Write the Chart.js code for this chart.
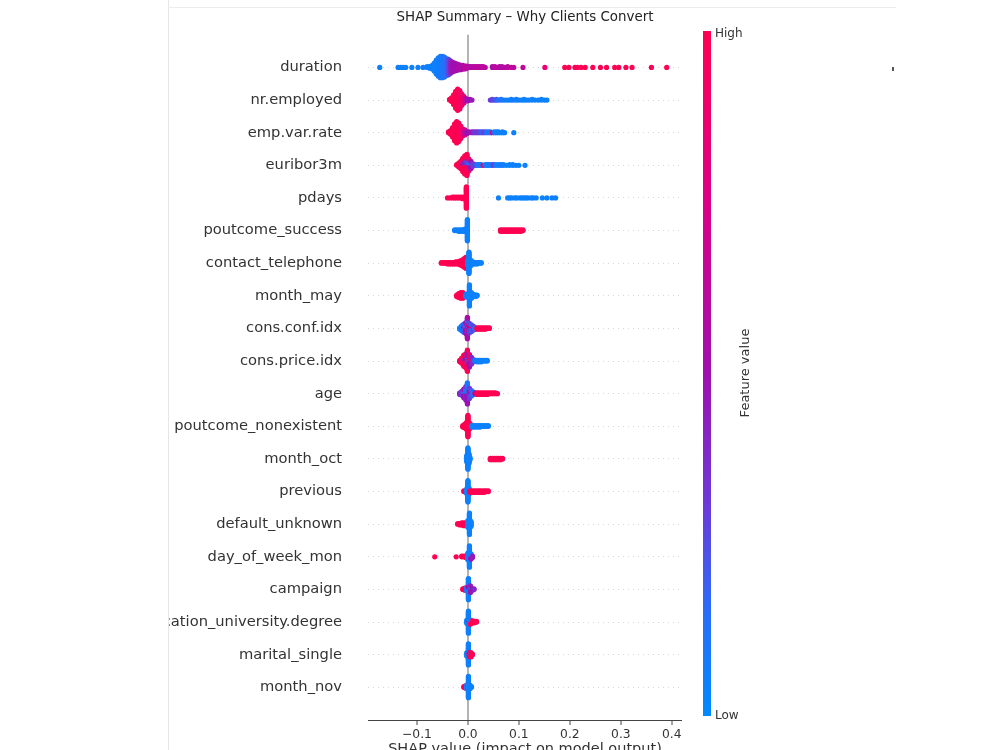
<!DOCTYPE html>
<html>
<head>
<meta charset="utf-8">
<script src="https://cdn.jsdelivr.net/npm/chart.js@4.4.1/dist/chart.umd.min.js"></script>
<style>
  html, body { margin: 0; padding: 0; background: #fff; overflow: hidden; }
  #wrap { position: relative; width: 1000px; height: 765px; }
  #mask { position: absolute; left: 0; top: 0; width: 168px; height: 765px; background: #fff; border-right: 1px solid #e6e6e6; }
  #topline { position: absolute; left: 168px; top: 7px; width: 728px; height: 1px; background: #ededed; }
  #speck { position: absolute; left: 892px; top: 67px; width: 2px; height: 4px; background: #555; }
</style>
</head>
<body>
<div id="wrap">
  <canvas id="shap" width="1000" height="765"></canvas>
  <div id="mask"></div>
  <div id="topline"></div>
  <div id="speck"></div>
</div>
<script>
// feature names, top to bottom
const featureNames = ['duration', 'nr.employed', 'emp.var.rate', 'euribor3m', 'pdays',
  'poutcome_success', 'contact_telephone', 'month_may', 'cons.conf.idx', 'cons.price.idx',
  'age', 'poutcome_nonexistent', 'month_oct', 'previous', 'default_unknown',
  'day_of_week_mon', 'campaign', 'education_university.degree', 'marital_single', 'month_nov'];

const xTicks = [-0.1, 0, 0.1, 0.2, 0.3, 0.4];

// each entry: [shap value, number of points, feature value 0=low .. 1=high]
const duration = [
  [-0.173,1,0.05],[-0.137,1,0.05],[-0.132,1,0.05],[-0.127,1,0.05],[-0.122,1,0.05],[-0.110,1,0.05],[-0.098,1,0.05],[-0.088,1,0.08],[-0.080,2,0.05],
  [-0.075,3,0.05],[-0.070,6,0.05],[-0.066,12,0.05],[-0.062,20,0.05],[-0.058,26,0.06],[-0.054,30,0.08],[-0.050,30,0.1],[-0.046,28,0.12],[-0.042,24,0.15],
  [-0.038,20,0.25],[-0.038,2,0.5],[-0.034,14,0.4],[-0.034,4,0.55],[-0.030,14,0.5],[-0.026,12,0.5],[-0.022,10,0.5],[-0.018,8,0.55],[-0.014,7,0.55],
  [-0.010,6,0.55],[-0.006,5,0.6],[-0.002,4,0.6],
  [0.002,2,0.6],[0.006,2,0.6],[0.010,2,0.55],[0.014,2,0.6],[0.018,2,0.65],[0.022,2,0.6],[0.026,2,0.6],[0.030,2,0.6],[0.034,1,0.6],
  [0.048,2,0.55],[0.053,2,0.6],[0.058,1,0.6],[0.062,2,0.6],[0.067,2,0.55],[0.072,1,0.6],[0.078,2,0.6],[0.085,1,0.65],[0.090,1,0.6],
  [0.108,1,0.65],[0.151,1,0.85],
  [0.190,1,1],[0.198,1,1],[0.210,1,1],[0.215,1,0.95],[0.222,1,1],[0.230,1,1],[0.245,1,1],[0.260,1,1],[0.272,1,1],[0.288,1,1],
  [0.296,1,1],[0.310,1,1],[0.322,1,1],[0.360,1,1],[0.390,1,1]
];
const nrEmployed = [
  [-0.036,2,1],[-0.032,6,1],[-0.028,14,1],[-0.024,24,1],[-0.020,30,1],[-0.016,26,0.95],[-0.012,16,0.9],[-0.008,8,0.8],[-0.008,2,0.5],
  [-0.004,4,0.6],[0.000,3,0.5],[0.004,2,0.5],[0.008,1,0.45],
  [0.044,1,0.3],[0.048,2,0.3],[0.052,1,0.25],[0.056,2,0.2],[0.060,1,0.15],[0.065,2,0.1],[0.070,1,0.1],[0.075,1,0.05],[0.080,1,0.05],
  [0.085,2,0.05],[0.090,1,0.1],[0.095,2,0.05],[0.100,1,0.05],[0.105,1,0.05],[0.110,2,0.05],[0.115,1,0.05],[0.120,1,0.05],[0.126,2,0.05],
  [0.132,1,0.05],[0.138,1,0.05],[0.144,2,0.05],[0.150,1,0.05],[0.155,1,0.05]
];
const empVarRate = [
  [-0.038,2,1],[-0.034,6,1],[-0.030,14,1],[-0.026,24,1],[-0.022,30,1],[-0.018,26,1],[-0.014,18,0.95],[-0.010,10,0.9],[-0.006,6,0.7],
  [-0.006,2,0.4],[-0.002,3,0.5],[0.002,2,0.5],
  [0.008,2,0.45],[0.012,2,0.35],[0.016,2,0.3],[0.020,2,0.35],[0.024,2,0.25],[0.028,2,0.2],[0.032,2,0.3],[0.036,2,0.15],[0.040,2,0.1],
  [0.044,2,0.1],[0.048,1,0.8],[0.052,2,0.1],[0.056,2,0.05],[0.060,2,0.05],[0.064,1,0.05],[0.068,2,0.05],[0.072,1,0.05],[0.090,1,0.05]
];
const euribor3m = [
  [-0.022,2,1],[-0.018,6,1],[-0.014,10,1],[-0.010,14,1],[-0.010,4,0.5],[-0.006,18,1],[-0.006,6,0.4],[-0.002,20,1],[-0.002,8,0.3],
  [0.002,10,0.9],[0.002,6,0.2],[0.006,6,0.5],[0.006,4,0.1],[0.010,4,0.3],
  [0.014,2,0.3],[0.018,2,0.15],[0.022,2,0.1],[0.026,2,0.1],[0.030,1,0.9],[0.034,2,0.1],[0.038,2,0.05],[0.042,2,0.1],[0.046,2,0.05],
  [0.050,2,0.3],[0.055,2,0.05],[0.060,2,0.05],[0.065,2,0.1],[0.070,2,0.05],[0.076,1,0.05],[0.082,2,0.05],[0.088,2,0.05],[0.094,1,0.05],
  [0.100,1,0.05],[0.112,1,0.05]
];
const pdays = [
  [-0.040,1,1],[-0.035,1,1],[-0.030,2,1],[-0.026,2,1],[-0.022,2,1],[-0.018,2,1],[-0.014,2,1],[-0.010,3,1],[-0.006,3,1],[-0.003,30,1],
  [0.060,1,0.05],[0.078,1,0.05],[0.082,1,0.05],[0.086,1,0.05],[0.092,1,0.05],[0.096,1,0.05],[0.102,1,0.05],[0.106,1,0.05],[0.110,1,0.05],
  [0.114,1,0.05],[0.118,1,0.05],[0.124,1,0.05],[0.128,1,0.05],[0.134,1,0.05],[0.146,1,0.05],[0.155,1,0.05],[0.165,1,0.05],[0.172,1,0.05]
];
const poutcomeSuccess = [
  [-0.026,2,0.05],[-0.022,2,0.05],[-0.018,3,0.05],[-0.014,3,0.05],[-0.010,3,0.05],[-0.006,4,0.05],[-0.001,30,0.05],
  [0.064,3,1],[0.068,3,1],[0.072,3,1],[0.076,3,1],[0.080,3,1],[0.084,3,1],[0.088,3,1],[0.092,3,1],[0.096,3,1],[0.100,3,1],[0.104,3,1],[0.108,2,1]
];
const contactTelephone = [
  [-0.052,2,1],[-0.048,2,1],[-0.044,2,1],[-0.040,3,1],[-0.036,3,1],[-0.032,3,1],[-0.028,3,1],[-0.024,4,1],[-0.020,4,1],[-0.016,6,1],
  [-0.012,8,1],[-0.008,12,1],[-0.004,14,1],[-0.004,2,0.5],
  [0.000,8,0.05],[0.002,30,0.05],[0.006,8,0.05],[0.010,4,0.05],[0.014,3,0.05],[0.018,3,0.05],[0.022,2,0.05],[0.026,2,0.05]
];
const monthMay = [
  [-0.022,3,1],[-0.018,6,1],[-0.014,8,1],[-0.010,8,1],[-0.006,4,1],[-0.004,4,0.05],[0.000,6,0.05],[0.003,28,0.05],[0.007,8,0.05],
  [0.011,4,0.05],[0.015,3,0.05],[0.018,2,0.05]
];
const consConfIdx = [
  [-0.016,3,0.05],[-0.012,6,0.1],[-0.012,2,0.5],[-0.008,8,0.2],[-0.008,4,0.6],[-0.004,10,0.5],[-0.004,6,0.1],[-0.001,14,0.55],[-0.001,10,0.2],
  [-0.001,6,0.9],[0.003,8,0.3],[0.003,6,0.6],[0.007,6,0.2],[0.007,4,0.7],[0.011,4,0.3],[0.011,2,0.9],[0.014,3,0.1],
  [0.018,3,1],[0.022,3,1],[0.026,3,1],[0.030,3,1],[0.034,3,1],[0.038,2,1],[0.042,2,1]
];
const consPriceIdx = [
  [-0.016,3,0.9],[-0.012,6,1],[-0.012,2,0.5],[-0.008,10,1],[-0.008,6,0.4],[-0.004,12,0.95],[-0.004,8,0.5],[-0.001,14,1],[-0.001,12,0.45],
  [-0.001,4,0.1],[0.003,8,0.5],[0.003,8,0.9],[0.003,2,0.1],[0.007,6,0.4],[0.007,4,0.9],[0.011,4,0.3],[0.014,2,0.1],
  [0.018,3,0.05],[0.022,3,0.05],[0.026,3,0.05],[0.030,2,0.05],[0.034,2,0.05],[0.038,2,0.05]
];
const age = [
  [-0.016,3,0.4],[-0.012,6,0.3],[-0.008,8,0.5],[-0.008,4,0.1],[-0.004,10,0.4],[-0.004,8,0.1],[-0.001,14,0.5],[-0.001,14,0.1],
  [0.003,8,0.3],[0.003,6,0.55],[0.007,6,0.2],[0.007,2,0.6],[0.011,4,0.1],[0.014,2,0.5],
  [0.018,3,1],[0.022,3,1],[0.026,3,1],[0.030,3,1],[0.034,3,1],[0.038,3,1],[0.042,2,1],[0.046,2,1],[0.050,2,1],[0.054,2,1],[0.058,1,1]
];
const poutcomeNonexistent = [
  [-0.010,3,1],[-0.006,6,1],[-0.003,10,1],[0.000,30,1],[0.004,6,1],[0.004,2,0.05],
  [0.008,3,0.05],[0.012,3,0.05],[0.016,3,0.05],[0.020,3,0.05],[0.024,3,0.05],[0.028,2,0.05],[0.032,2,0.05],[0.036,2,0.05],[0.040,2,0.05]
];
const monthOct = [
  [-0.002,10,0.05],[0.000,30,0.05],[0.002,14,0.05],[0.004,4,0.05],
  [0.044,3,1],[0.048,3,1],[0.052,3,1],[0.056,3,1],[0.060,3,1],[0.064,3,1],[0.068,2,1]
];
const previous = [
  [-0.008,2,1],[-0.004,3,1],[-0.002,8,0.05],[0.000,30,0.05],[0.002,10,0.05],[0.004,3,1],[0.008,3,1],[0.012,3,1],[0.016,3,1],
  [0.020,3,1],[0.024,3,1],[0.028,3,1],[0.032,3,1],[0.036,2,1],[0.040,2,1]
];
const defaultUnknown = [
  [-0.020,2,1],[-0.016,3,1],[-0.012,4,1],[-0.008,5,1],[-0.004,4,1],[0.000,10,0.05],[0.003,30,0.05],[0.006,8,0.05]
];
const dayOfWeekMon = [
  [-0.065,1,1],[-0.023,1,1],[-0.012,2,1],[-0.008,2,1],[-0.004,3,1],[0.000,10,0.05],[0.003,30,0.05],[0.006,4,0.5],[0.006,4,0.05],[0.009,3,0.45]
];
const campaign = [
  [-0.010,2,1],[-0.006,4,1],[-0.002,6,0.1],[0.001,22,0.05],[0.001,8,0.5],[0.005,6,0.45],[0.005,4,0.05],[0.009,3,0.5],[0.012,2,0.4]
];
const educationUniversityDegree = [
  [-0.002,6,0.05],[0.001,30,0.05],[0.001,3,0.5],[0.005,4,1],[0.005,3,0.05],[0.009,4,1],[0.013,3,1],[0.017,2,1]
];
const maritalSingle = [
  [-0.002,6,0.05],[0.001,26,0.05],[0.001,4,0.5],[0.003,6,1],[0.006,5,1],[0.006,2,0.05],[0.009,2,1]
];
const monthNov = [
  [-0.008,2,1],[-0.005,4,1],[-0.002,6,0.05],[0.001,30,0.05],[0.004,6,0.05],[0.007,2,0.05]
];

const rows = [duration, nrEmployed, empVarRate, euribor3m, pdays, poutcomeSuccess, contactTelephone, monthMay,
  consConfIdx, consPriceIdx, age, poutcomeNonexistent, monthOct, previous, defaultUnknown, dayOfWeekMon,
  campaign, educationUniversityDegree, maritalSingle, monthNov];

// shap red_blue colormap, approx
const cmapStops = [
  [0, [0, 138, 255]], [0.15, [40, 110, 250]], [0.3, [105, 60, 220]],
  [0.5, [160, 16, 176]], [0.75, [220, 0, 135]], [1, [255, 0, 82]]
];
function cmap(t) {
  for (let i = 1; i < cmapStops.length; i++) {
    if (t <= cmapStops[i][0]) {
      const [t0, c0] = cmapStops[i - 1];
      const [t1, c1] = cmapStops[i];
      const f = (t - t0) / (t1 - t0);
      const c = c0.map((v, k) => Math.round(v + (c1[k] - v) * f));
      return 'rgb(' + c.join(',') + ')';
    }
  }
  return 'rgb(255,0,82)';
}

// beeswarm stacking like shap: points in the same bin alternate above / below the row
function swarm(groups, rowY) {
  const bins = new Map();
  groups.forEach(([v, n, c]) => {
    const key = Math.round(v / 0.002);
    if (!bins.has(key)) bins.set(key, []);
    bins.get(key).push({ v, n, c });
  });
  let maxN = 0;
  bins.forEach(list => { maxN = Math.max(maxN, list.reduce((s, g) => s + g.n, 0)); });
  const unit = 0.36 / (Math.ceil((maxN - 1) / 2) + 1);
  const pts = [];
  bins.forEach(list => {
    const left = list.map(g => g.n);
    let layer = 0, more = true;
    while (more) {
      more = false;
      list.forEach((g, i) => {
        if (left[i] > 0) {
          left[i]--; more = true;
          const off = Math.ceil(layer / 2) * (layer % 2 ? 1 : -1);
          pts.push({ x: g.v, y: rowY + off * unit, c: g.c });
          layer++;
        }
      });
    }
  });
  return pts;
}

const datasets = rows.map((groups, i) => {
  const pts = swarm(groups, featureNames.length - 1 - i);
  return {
    label: featureNames[i],
    data: pts.map(p => ({ x: p.x, y: p.y })),
    pointBackgroundColor: pts.map(p => cmap(p.c)),
    pointBorderWidth: 0,
    pointRadius: 2.6,
    pointHoverRadius: 2.6
  };
});

const FONT = 'DejaVu Sans';
Chart.defaults.font.family = FONT;
Chart.defaults.color = '#333';

const extras = {
  id: 'extras',
  afterDraw(chart) {
    const { ctx, chartArea } = chart;
    ctx.save();
    // title
    ctx.fillStyle = '#222';
    ctx.font = '13.4px ' + FONT;
    ctx.textAlign = 'center';
    ctx.textBaseline = 'middle';
    ctx.fillText('SHAP Summary \u2013 Why Clients Convert', (chartArea.left + chartArea.right) / 2, 18);
    // colour bar
    const x0 = 703, x1 = 711, y0 = 31, y1 = 716;
    const grad = ctx.createLinearGradient(0, y1, 0, y0);
    for (let k = 0; k <= 20; k++) grad.addColorStop(k / 20, cmap(k / 20));
    ctx.fillStyle = grad;
    ctx.fillRect(x0, y0, x1 - x0, y1 - y0);
    ctx.fillStyle = '#333';
    ctx.font = '12px ' + FONT;
    ctx.textAlign = 'left';
    ctx.fillText('High', 715, y0 + 3);
    ctx.fillText('Low', 715, y1);
    ctx.translate(746, 373);
    ctx.rotate(-Math.PI / 2);
    ctx.textAlign = 'center';
    ctx.font = '13px ' + FONT;
    ctx.fillText('Feature value', 0, 0);
    ctx.restore();
  }
};

new Chart(document.getElementById('shap'), {
  type: 'scatter',
  data: { datasets },
  plugins: [extras],
  options: {
    responsive: false,
    animation: false,
    layout: { padding: { top: 31, right: 318, left: 0, bottom: 0 } },
    plugins: { legend: { display: false }, tooltip: { enabled: false }, title: { display: false } },
    scales: {
      x: {
        type: 'linear',
        min: -0.196,
        max: 0.42,
        afterBuildTicks: s => { s.ticks = xTicks.map(v => ({ value: v })); },
        afterFit: s => { s.height = 45; },
        ticks: {
          padding: 2,
          color: '#333',
          font: { size: 12.3 },
          callback: v => (v < 0 ? '\u2212' : '') + Math.abs(v).toFixed(1)
        },
        grid: {
          color: c => (c.tick && c.tick.value === 0 ? '#b4b4b4' : 'rgba(0,0,0,0)'),
          lineWidth: c => (c.tick && c.tick.value === 0 ? 2 : 0),
          tickColor: '#444',
          tickLength: 5,
          tickWidth: 1
        },
        border: { display: true, color: '#444', width: 1 },
        title: {
          display: true,
          text: 'SHAP value (impact on model output)',
          color: '#333',
          font: { size: 14.5 },
          padding: { top: 0, bottom: 7 }
        }
      },
      y: {
        type: 'linear',
        min: -1,
        max: 20,
        afterBuildTicks: s => { s.ticks = featureNames.map((n, i) => ({ value: i })); },
        afterFit: s => { s.width = 368; },
        ticks: {
          padding: 26,
          color: '#333',
          font: { size: 14.7 },
          callback: v => featureNames[featureNames.length - 1 - v]
        },
        grid: { color: '#d6d6d6', lineWidth: 1, drawTicks: false },
        border: { display: false, dash: [1, 4] }
      }
    }
  }
});
</script>
</body>
</html>
